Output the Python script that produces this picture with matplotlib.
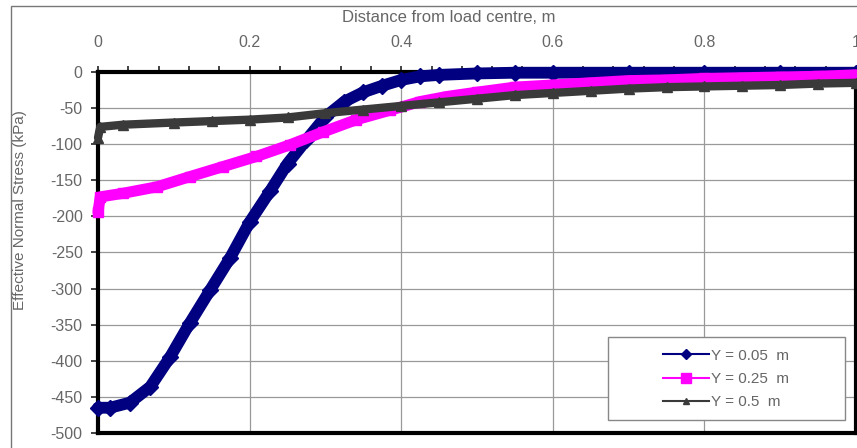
import matplotlib.pyplot as plt
from matplotlib.lines import Line2D
from matplotlib.patches import Rectangle
from matplotlib.ticker import MultipleLocator

plt.rcParams['font.family'] = ['Liberation Sans', 'DejaVu Sans']
plt.rcParams['axes.unicode_minus'] = False

# Y = 0.05 m
x_005 = [0, 0.016, 0.042, 0.069, 0.095, 0.121, 0.148, 0.174, 0.2, 0.227, 0.25, 0.275,
         0.3, 0.325, 0.35, 0.375, 0.4, 0.425, 0.45, 0.5, 0.55, 0.6, 0.7, 0.8, 0.9, 1.0]
s_005 = [-465, -465, -458, -436, -395, -348, -302, -258, -208, -165, -127, -94,
         -62, -41, -28, -19, -11, -6, -4, -2, -1, -1, -1, -1, -1, -1]

# Y = 0.25 m
x_025 = [0, 0.003, 0.033, 0.078, 0.121, 0.165, 0.209, 0.253, 0.297, 0.341, 0.385, 0.425,
         0.46, 0.5, 0.55, 0.6, 0.65, 0.7, 0.75, 0.8, 0.85, 0.9, 0.95, 1.0]
s_025 = [-194, -173, -168, -159, -145, -131, -117, -101, -83, -66, -53, -41,
         -34, -28, -21, -18, -15, -12, -11, -9, -8, -7, -6, -4]

# Y = 0.5 m
x_050 = [0, 0.003, 0.033, 0.1, 0.15, 0.2, 0.25, 0.3, 0.35, 0.4, 0.45, 0.5,
         0.55, 0.6, 0.65, 0.7, 0.75, 0.8, 0.85, 0.9, 0.95, 1.0]
s_050 = [-91, -76, -73, -70, -68, -66, -63, -57, -52, -47, -42, -37,
         -32, -29, -26, -23, -21, -20, -19, -18, -16, -15]

labels = ['Y = 0.05  m', 'Y = 0.25  m', 'Y = 0.5  m']
colors = ['#000080', '#ff00ff', '#3a3a3a']
markers = ['D', 's', '^']

W, H = 857, 448
fig = plt.figure(figsize=(W / 100, H / 100), dpi=100)
ax = fig.add_axes([98 / W, 15 / H, (856 - 98) / W, (433 - 72) / H])

gray = '#666666'

ax.plot(x_005, s_005, color=colors[0], lw=8.5, marker=markers[0], ms=8,
        solid_capstyle='round', solid_joinstyle='round', clip_on=False, zorder=3)
ax.plot(x_025, s_025, color=colors[1], lw=8, marker=markers[1], ms=7.5,
        solid_capstyle='round', solid_joinstyle='round', clip_on=False, zorder=4)
ax.plot(x_050, s_050, color=colors[2], lw=6, marker=markers[2], ms=6.5,
        solid_capstyle='round', solid_joinstyle='round', clip_on=False, zorder=5)

ax.set_xlim(0, 1)
ax.set_ylim(-500, 0)
ax.xaxis.tick_top()
ax.xaxis.set_major_locator(MultipleLocator(0.2))
ax.xaxis.set_minor_locator(MultipleLocator(0.04))
ax.yaxis.set_major_locator(MultipleLocator(50))
ax.xaxis.set_major_formatter(plt.FuncFormatter(lambda v, p: '%g' % round(v, 2)))
ax.tick_params(axis='x', which='both', direction='out', length=4, width=1.2,
               color='#222222', pad=12, labelsize=11.5, labelcolor=gray)
ax.tick_params(axis='y', direction='out', length=5, width=1.2, color='#222222',
               pad=6, labelsize=11.5, labelcolor=gray)
ax.grid(True, which='major', color='#999999', lw=0.9)
ax.set_axisbelow(True)
for sp in ax.spines.values():
    sp.set_linewidth(3)
    sp.set_color('black')

fig.text(449 / W, 1 - 18 / H, 'Distance from load centre, m', ha='center',
         va='center', fontsize=12, color=gray)
fig.text(20 / W, 1 - 210 / H, 'Effective Normal Stress (kPa)', rotation=90,
         ha='center', va='center', fontsize=11, color=gray)

# outer chart border
fig.patches.append(Rectangle((11 / W, -0.1), 1.2, 1 - 6 / H + 0.1,
                             transform=fig.transFigure, fill=False,
                             edgecolor='#777777', lw=1))

# legend box
ax.add_patch(Rectangle((608 / W, 1 - 420 / H), (845 - 608) / W, (420 - 337) / H,
                       transform=fig.transFigure, facecolor='white',
                       edgecolor='#888888', lw=1, zorder=8, clip_on=False))
handles = [Line2D([], [], color=c, lw=1.5, marker=m, ms=5)
           for c, m in zip(colors, markers)]
handles[1].set_markersize(7)
leg = ax.legend(handles, labels, loc='center', bbox_to_anchor=(726 / W, 1 - 379 / H),
                bbox_transform=fig.transFigure, frameon=False, numpoints=1,
                handlelength=3.0, handletextpad=0.1, labelspacing=0.6,
                fontsize=11, labelcolor=gray)
leg.set_zorder(10)

fig.savefig('out.png', dpi=100)
